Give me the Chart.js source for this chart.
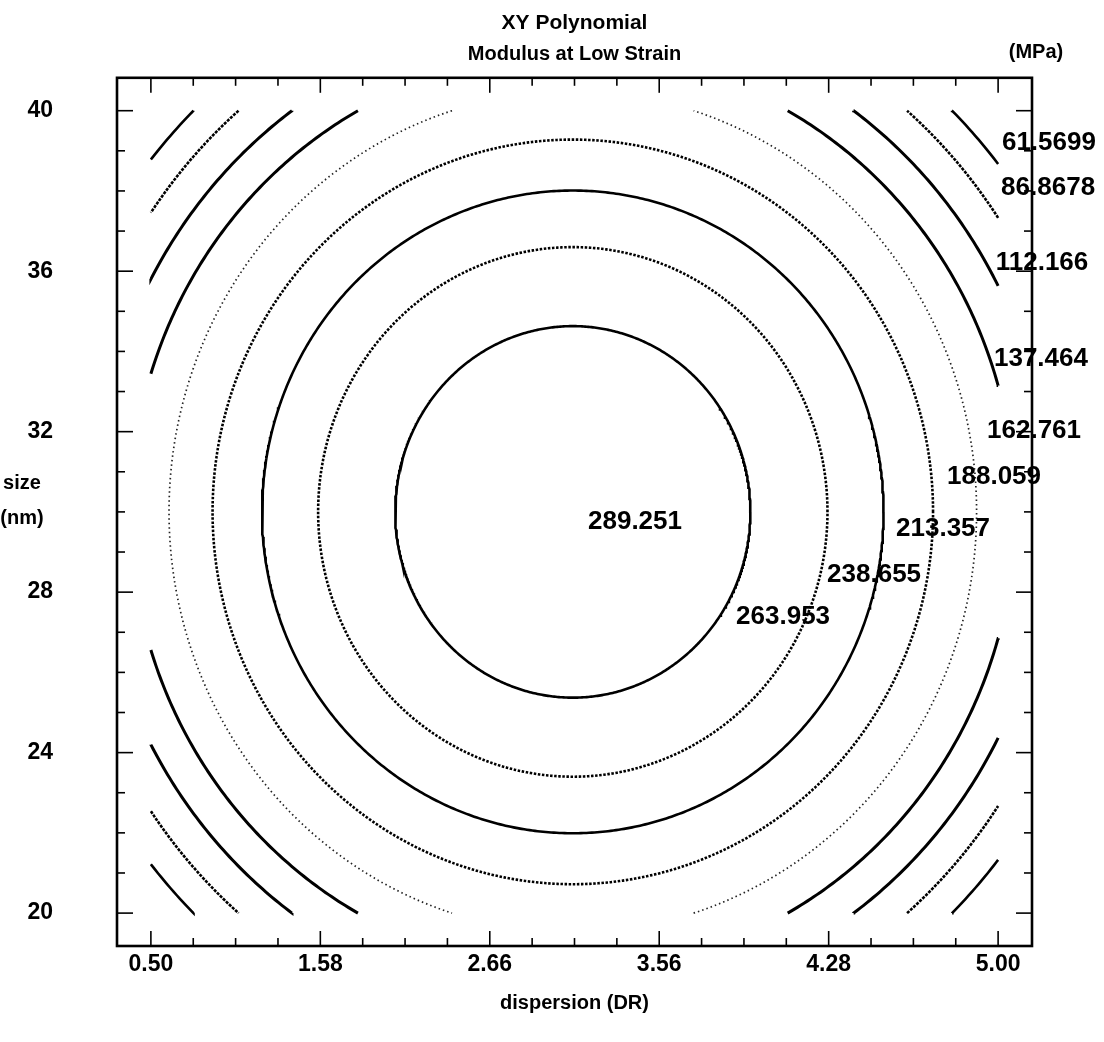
<!DOCTYPE html>
<html>
<head>
<meta charset="utf-8">
<script src="https://cdn.jsdelivr.net/npm/chart.js@4.4.1/dist/chart.umd.min.js"></script>
<style>
  html, body { margin: 0; padding: 0; background: #fff; }
</style>
</head>
<body>
<canvas id="c" width="1104" height="1042"></canvas>
<script>
// x axis: ticks are evenly spaced, the printed values are not
const xLabels = ['0.50', '1.58', '2.66', '3.56', '4.28', '5.00'];
const yTicks = [20, 24, 28, 32, 36, 40];

// contour levels (MPa), centre outwards
const levels = [289.251, 263.953, 238.655, 213.357, 188.059, 162.761, 137.464, 112.166, 86.8678, 61.5699];
// half width (in x tick steps) and half height (nm) of each contour ring
const ringRx = [1.048, 1.503, 1.834, 2.126, 2.383, 2.611, 2.820, 3.016, 3.196];
const ringRy = [4.63, 6.60, 8.01, 9.28, 10.48, 11.44, 12.36, 13.22, 14.01];
const centre = { x: 2.49, y: 30 };

// layout only: where each level label is printed (axis units)
const labelAt = [
  [2.857, 29.75], [3.731, 27.38], [4.268, 28.44], [4.675, 29.58], [4.976, 30.87],
  [5.212, 32.03], [5.253, 33.81], [5.259, 36.22], [5.295, 38.07], [5.300, 39.21]
];
const ringStyle = [
  { w: 2.6, dash: [] },
  { w: 2.6, dash: [2.5, 1.6] },
  { w: 2.6, dash: [] },
  { w: 2.6, dash: [2.5, 1.6] },
  { w: 1.7, dash: [1.5, 3], c: '#222' },
  { w: 3, dash: [] },
  { w: 3, dash: [] },
  { w: 2.6, dash: [3, 1.2] },
  { w: 2.6, dash: [] }
];

const FONT = 'Liberation Sans, Arial, sans-serif';

function inside(p) { return p.x >= 0 && p.x <= 5 && p.y >= 20 && p.y <= 40; }
function pt(i, t) {
  return { x: centre.x + ringRx[i] * Math.cos(t), y: centre.y + ringRy[i] * Math.sin(t) };
}
// a is inside, b is outside
function edge(i, a, b) {
  for (let k = 0; k < 30; k++) {
    const m = (a + b) / 2;
    if (inside(pt(i, m))) a = m; else b = m;
  }
  return pt(i, a);
}
function ringSegments(i) {
  const N = 720, step = 2 * Math.PI / N;
  let start = null;
  for (let k = 0; k < N; k++) {
    if (!inside(pt(i, k * step))) { start = k * step; break; }
  }
  if (start === null) {
    const loop = [];
    for (let k = 0; k <= N; k++) loop.push(pt(i, k * step));
    return [loop];
  }
  const segs = [];
  let cur = null, prevT = start;
  for (let k = 1; k <= N; k++) {
    const t = start + k * step, p = pt(i, t), inP = inside(p);
    if (inP && !cur) cur = [edge(i, t, prevT), p];
    else if (inP) cur.push(p);
    else if (cur) { cur.push(edge(i, prevT, t)); segs.push(cur); cur = null; }
    prevT = t;
  }
  return segs;
}

const datasets = [];
ringRx.forEach((_, i) => {
  const st = ringStyle[i];
  ringSegments(i).forEach(seg => {
    datasets.push({
      label: String(levels[i]),
      data: seg,
      showLine: true,
      pointRadius: 0,
      borderColor: st.c || '#000',
      borderWidth: st.w,
      borderDash: st.dash,
      tension: 0
    });
  });
});

const framePlugin = {
  id: 'frame',
  afterDraw(chart) {
    const { ctx, chartArea: a, scales: { x, y } } = chart;
    ctx.save();
    ctx.strokeStyle = '#000';
    ctx.lineWidth = 1.6;
    const seg = (x1, y1, x2, y2) => { ctx.beginPath(); ctx.moveTo(x1, y1); ctx.lineTo(x2, y2); ctx.stroke(); };
    for (let k = 0; k <= 20; k++) {
      const px = x.getPixelForValue(k * 0.25);
      const len = k % 4 === 0 ? 15 : 8;
      seg(px, a.top, px, a.top + len);
      seg(px, a.bottom, px, a.bottom - len);
    }
    for (let v = 20; v <= 40; v++) {
      const py = y.getPixelForValue(v);
      const len = v % 4 === 0 ? 16 : 8;
      seg(a.left, py, a.left + len, py);
      seg(a.right, py, a.right - len, py);
    }
    ctx.lineWidth = 2.6;
    ctx.strokeRect(a.left, a.top, a.width, a.height);

    ctx.fillStyle = '#000';
    ctx.textAlign = 'center';
    ctx.textBaseline = 'middle';
    ctx.font = 'bold 26px ' + FONT;
    levels.forEach((lv, i) => {
      ctx.fillText(String(lv), x.getPixelForValue(labelAt[i][0]), y.getPixelForValue(labelAt[i][1]));
    });
    ctx.font = 'bold 20px ' + FONT;
    ctx.fillText('size', 22, 483);
    ctx.fillText('(nm)', 22, 518);
    ctx.fillText('(MPa)', 1036, 52);
    ctx.restore();
  }
};

const tickFont = { family: FONT, size: 23, weight: 'bold' };

new Chart(document.getElementById('c'), {
  type: 'scatter',
  data: { datasets },
  options: {
    responsive: false,
    animation: false,
    events: [],
    layout: { padding: { left: 0, right: 72, top: 0, bottom: 0 } },
    plugins: {
      legend: { display: false },
      tooltip: { enabled: false },
      title: {
        display: true, text: 'XY Polynomial', fullSize: false, color: '#000',
        font: { family: FONT, size: 21, weight: 'bold' }, padding: { top: 5, bottom: 0 }
      },
      subtitle: {
        display: true, text: 'Modulus at Low Strain', fullSize: false, color: '#000',
        font: { family: FONT, size: 20, weight: 'bold' }, padding: { top: 6.5, bottom: 11.3 }
      }
    },
    scales: {
      x: {
        type: 'linear', min: -0.2, max: 5.2,
        grid: { display: false, drawTicks: false },
        border: { display: false },
        afterBuildTicks: s => { s.ticks = xLabels.map((_, i) => ({ value: i })); },
        afterFit: s => { s.height = 96; },
        ticks: {
          callback: v => xLabels[Math.round(v)], padding: 5, color: '#000',
          font: tickFont, autoSkip: false, maxRotation: 0
        },
        title: {
          display: true, text: 'dispersion (DR)', color: '#000',
          font: { family: FONT, size: 20, weight: 'bold' }, padding: { top: 0, bottom: 27 }
        }
      },
      y: {
        type: 'linear', min: 19.18, max: 40.82,
        grid: { display: false, drawTicks: false },
        border: { display: false },
        afterBuildTicks: s => { s.ticks = yTicks.map(v => ({ value: v })); },
        afterFit: s => { s.width = 117; },
        ticks: { callback: v => String(v), padding: 64, color: '#000', font: tickFont, autoSkip: false }
      }
    }
  },
  plugins: [framePlugin]
});
</script>
</body>
</html>
